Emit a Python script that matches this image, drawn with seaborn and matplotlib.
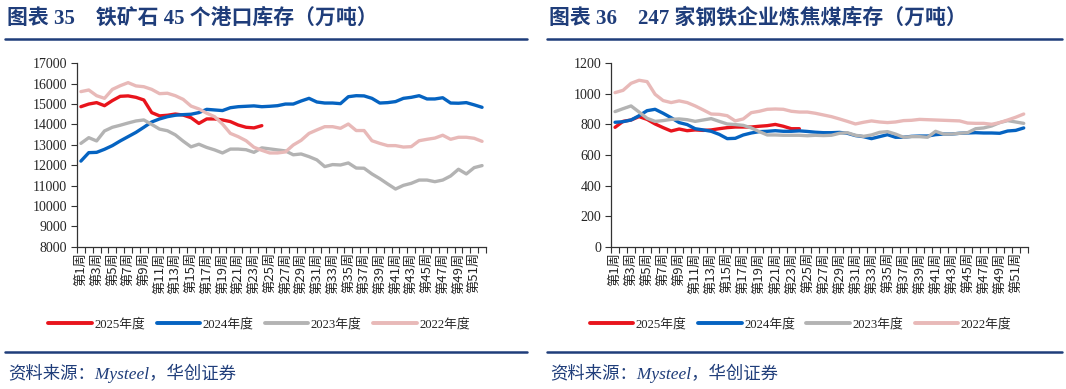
import numpy as np
import pandas as pd
import matplotlib
matplotlib.use("Agg")
import matplotlib.pyplot as plt
from matplotlib.lines import Line2D
from matplotlib.ticker import FixedLocator
import seaborn as sns

# weeks 1..52
weeks = list(range(1, 53))
week_labels = ["第%d周" % w for w in weeks]
series_names = ["2025年度", "2024年度", "2023年度", "2022年度"]
series_colors = ["#E8141C", "#0563C1", "#B3B3B3", "#E8B9B8"]

# chart 35: iron ore stock at 45 ports (10k t)
ore_2025 = [14870, 15000, 15070, 14920, 15170, 15380, 15400, 15330, 15200, 14580,
            14420, 14450, 14510, 14460, 14330, 14050, 14270, 14270, 14220, 14140,
            13970, 13860, 13830, 13940]
ore_2024 = [12200, 12615, 12630, 12780, 12960, 13190, 13400, 13610, 13860, 14120,
            14270, 14380, 14450, 14480, 14500, 14580, 14740, 14710, 14680, 14820,
            14870, 14890, 14910, 14870, 14890, 14920, 15000, 15000, 15150, 15280,
            15100, 15050, 15050, 15020, 15360, 15410, 15400, 15280, 15050, 15070,
            15120, 15280, 15330, 15410, 15250, 15250, 15310, 15050, 15040, 15070,
            14960, 14840]
ore_2023 = [13070, 13350, 13190, 13680, 13860, 13960, 14070, 14170, 14220, 14000,
            13770, 13690, 13490, 13180, 12900, 13030, 12870, 12750, 12600, 12790,
            12790, 12760, 12630, 12850, 12800, 12750, 12700, 12510, 12550, 12420,
            12260, 11930, 12030, 12010, 12110, 11860, 11850, 11570, 11340, 11080,
            10830, 11010, 11110, 11270, 11270, 11190, 11270, 11470, 11800, 11570,
            11880, 11980]
ore_2022 = [15610, 15690, 15410, 15280, 15720, 15900, 16050, 15890, 15850, 15720,
            15510, 15530, 15410, 15230, 14900, 14760, 14550, 14380, 14020, 13560,
            13400, 13200, 12880, 12730, 12600, 12600, 12650, 12990, 13220, 13560,
            13730, 13890, 13890, 13810, 14020, 13700, 13700, 13200, 13070, 12960,
            12960, 12890, 12910, 13200, 13270, 13330, 13470, 13270, 13370, 13370,
            13320, 13170]

# chart 36: coking coal stock at 247 steel mills (10k t)
coal_2025 = [781, 820, 829, 851, 833, 803, 779, 757, 770, 759,
             764, 761, 764, 772, 779, 783, 783, 783, 788, 792,
             800, 788, 772, 772]
coal_2024 = [814, 818, 829, 857, 890, 899, 873, 844, 812, 799,
             772, 764, 755, 735, 707, 709, 731, 744, 753, 755,
             759, 755, 755, 758, 754, 749, 746, 746, 748, 742,
             727, 720, 707, 720, 733, 716, 716, 722, 724, 724,
             733, 737, 737, 742, 744, 746, 744, 744, 742, 757,
             761, 777]
coal_2023 = [884, 903, 921, 881, 840, 820, 825, 833, 836, 831,
             820, 829, 838, 820, 803, 799, 794, 777, 753, 731,
             731, 729, 729, 729, 726, 729, 727, 729, 742, 746,
             729, 722, 731, 748, 753, 737, 716, 720, 720, 716,
             755, 737, 737, 742, 746, 772, 777, 790, 812, 825,
             816, 807]
coal_2022 = [1008, 1023, 1069, 1089, 1080, 997, 956, 943, 954, 943,
             921, 895, 868, 866, 857, 823, 836, 877, 886, 899,
             901, 899, 886, 881, 881, 873, 862, 851, 836, 820,
             803, 814, 823, 816, 812, 816, 825, 827, 833, 831,
             829, 827, 825, 823, 809, 807, 807, 801, 812, 829,
             847, 868]

title_left = "图表 35    铁矿石 45 个港口库存（万吨）"
title_right = "图表 36    247 家钢铁企业炼焦煤库存（万吨）"
source_text = "资料来源：Mysteel，华创证券"

sns.set_style("white")
plt.rcParams["font.family"] = ["Liberation Serif", "Noto Sans CJK SC"]
plt.rcParams["axes.unicode_minus"] = False

navy = "#1F3D7A"


def draw_panel(ax, data, ylim, ystep):
    x = np.arange(len(weeks))
    for vals, color in zip(data, series_colors):
        sns.lineplot(x=x[:len(vals)], y=vals, ax=ax, color=color, lw=2.4,
                     estimator=None, legend=False)
    ax.set_xlim(-0.5, len(weeks) - 0.5)
    ax.set_ylim(*ylim)
    ax.set_yticks(np.arange(ylim[0], ylim[1] + 1, ystep))
    ax.tick_params(axis="y", labelsize=10, length=4, width=0.8, color="#333333",
                   direction="out", left=True, pad=3)
    # labels on odd weeks, ticks between weeks
    ax.set_xticks(x[::2])
    ax.set_xticklabels(week_labels[::2], rotation=90, fontsize=9.5,
                       family=["Noto Sans CJK SC"])
    ax.tick_params(axis="x", which="major", length=0, pad=4)
    ax.xaxis.set_minor_locator(FixedLocator(np.arange(-0.5, len(weeks), 1)))
    ax.tick_params(axis="x", which="minor", length=4, width=0.8, color="#333333",
                   direction="out", bottom=True)
    for s in ["top", "right"]:
        ax.spines[s].set_visible(False)
    for s in ["left", "bottom"]:
        ax.spines[s].set_color("#333333")
        ax.spines[s].set_linewidth(0.9)
    ax.set_xlabel("")
    ax.set_ylabel("")


fig = plt.figure(figsize=(10.66, 3.89), dpi=100)
ax1 = fig.add_axes([0.0722, 0.3658, 0.3837, 0.4715])
ax2 = fig.add_axes([0.5732, 0.3658, 0.3909, 0.4715])

draw_panel(ax1, [ore_2025, ore_2024, ore_2023, ore_2022], (8000, 17000), 1000)
draw_panel(ax2, [coal_2025, coal_2024, coal_2023, coal_2022], (0, 1200), 200)

handles = [Line2D([0], [0], color=c, lw=2.8) for c in series_colors]
for cx in [0.243, 0.751]:
    fig.legend(handles, series_names, loc="center", bbox_to_anchor=(cx, 0.167),
               ncol=4, frameon=False, handlelength=3.4,
               handletextpad=0.2, columnspacing=0.9,
               prop={"family": ["Liberation Serif", "Noto Sans CJK SC"], "size": 9.2})

# titles, rules and source notes
for x0, x1, title in [(0.005, 0.494, title_left), (0.513, 0.996, title_right)]:
    fig.text(x0 + 0.002, 0.953, title, fontsize=15, fontweight="bold",
             color=navy, ha="left", va="center")
    fig.add_artist(Line2D([x0, x1], [0.8997, 0.8997], color=navy, lw=1.8,
                          transform=fig.transFigure))
    fig.add_artist(Line2D([x0, x1], [0.095, 0.095], color=navy, lw=1.8,
                          transform=fig.transFigure))
    fig.text(x0 + 0.003, 0.040, source_text, fontsize=12.5, style="italic",
             color=navy, ha="left", va="center")

fig.savefig("out.png", dpi=100)
